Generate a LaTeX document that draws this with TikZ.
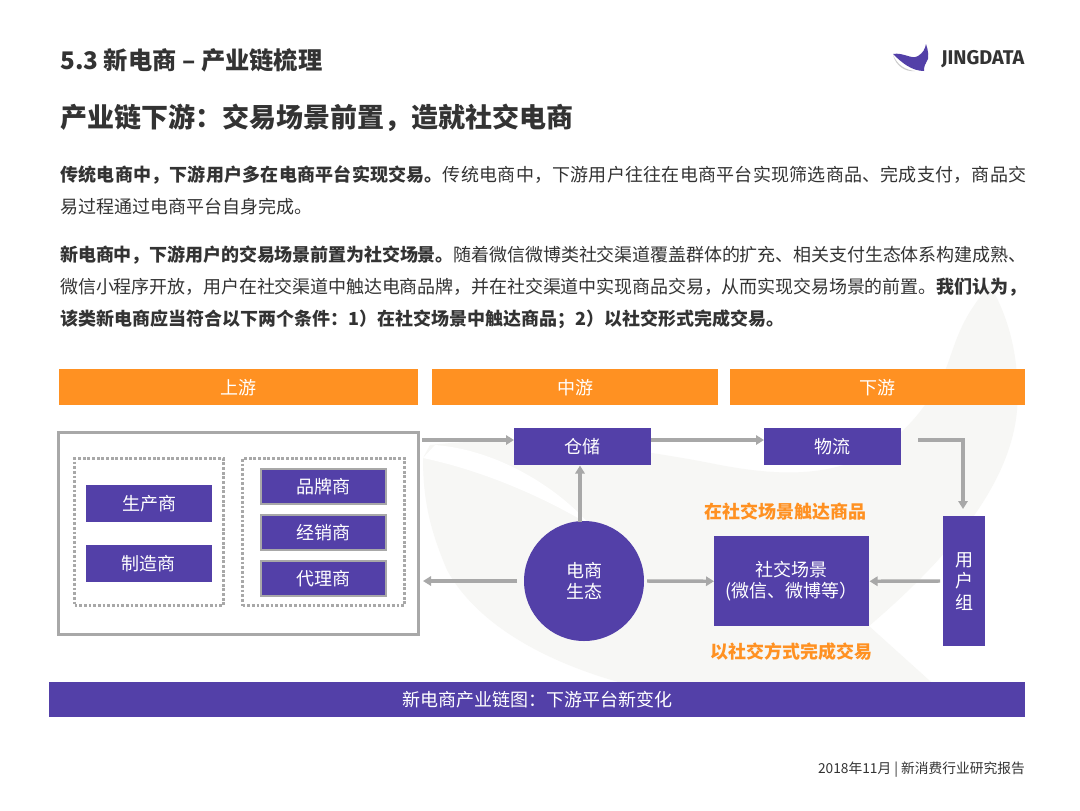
\documentclass[tikz,border=0pt]{standalone}
\usepackage{fontspec}
\setmainfont{Noto Sans CJK SC}
\newfontfamily\logofont{Fira Sans}
\XeTeXlinebreaklocale "zh"
\XeTeXlinebreakskip=0pt plus 0.6pt minus 0.3pt
\usetikzlibrary{positioning, arrows.meta}
\definecolor{jingpurple}{HTML}{5340A8}
\definecolor{jingorange}{HTML}{FF9122}
\definecolor{jinggray}{HTML}{A8A8A8}
\definecolor{jingtext}{HTML}{333333}
\definecolor{jingwash}{HTML}{F7F7F5}

\begin{document}
\begin{tikzpicture}[
        x=0.75pt, y=-0.75pt,
        >={Triangle[length=6pt,width=7pt]},
        % box styles
        head/.style={fill=jingorange, text=white, font=\fontsize{13.5}{16}\selectfont,
                     anchor=north west, inner sep=0pt, align=center},
        pbox/.style={fill=jingpurple, text=white, font=\fontsize{13.5}{16}\selectfont,
                     anchor=north west, inner sep=0pt, align=center},
        edged/.style={pbox, draw=jinggray, line width=1.5pt},
        dots/.style={draw=jinggray, line width=2.25pt, dash pattern=on 2.1pt off 1.4pt,
                     anchor=north west, inner sep=0pt},
        arr/.style={->, line width=2.6pt, draw=jinggray},
        hint/.style={text=jingorange, font=\fontsize{13.5}{15}\bfseries\selectfont},
        body/.style={text=jingtext, anchor=north west, inner sep=0pt, text width=724.5pt,
                     font=\fontsize{13.5}{24}\selectfont, align=justify},
    ]
        \useasboundingbox (0,0) rectangle (1080,810);
        \fill[white] (0,0) rectangle (1080,810);

        %% -- background wash --
        \fill[jingwash] (430,445) .. controls (520,435) and (620,445) .. (720,465)
            .. controls (800,480) and (880,480) .. (935,390)
            .. controls (955,360) and (950,330) .. (990,285)
            .. controls (1010,320) and (1020,360) .. (1017,410)
            .. controls (1012,470) and (970,540) .. (869,626)
            -- (940,690) -- (650,690)
            .. controls (560,670) and (480,630) .. (447,570)
            .. controls (430,530) and (423,500) .. (423,458) -- cycle;
        \fill[white] (435,445) .. controls (500,450) and (560,490) .. (590,525)
            .. controls (540,495) and (480,470) .. (423,458) -- cycle;

        %% -- header and texts --
        \node[anchor=west, inner sep=0pt, text=jingtext, font=\fontsize{18.2}{20}\bfseries\selectfont]
            (title) at (60,60) {5.3 新电商 – 产业链梳理};
        \node[anchor=west, inner sep=0pt, text=jingtext, font=\fontsize{20.25}{24}\bfseries\selectfont]
            (subtitle) at (60,118) {产业链下游：交易场景前置，造就社交电商};
        \node[body] (parone) at (60,165) {\textbf{传统电商中，下游用户多在电商平台实现交易。}传统电商中，下游用户往往在电商平台实现筛选商品、完成支付，商品交\linebreak 易过程通过电商平台自身完成。};
        \node[body] (partwo) at (60,245.5) {\textbf{新电商中，下游用户的交易场景前置为社交场景。}随着微信微博类社交渠道覆盖群体的扩充、相关支付生态体系构建成熟、\linebreak 微信小程序开放，用户在社交渠道中触达电商品牌，并在社交渠道中实现商品交易，从而实现交易场景的前置。\textbf{我们认为，\linebreak 该类新电商应当符合以下两个条件：1）在社交场景中触达商品；2）以社交形式完成交易。}};

        %% -- logo --
        \fill[jinggray!60] (893,55) .. controls (898,66) and (906,70) .. (915,71) .. controls (905,72) and (896,66) .. (893,55);
        \fill[jingpurple] (893,54) .. controls (903,52) and (912,60) .. (918,56)
            .. controls (923,53) and (925,49) .. (926,44) .. controls (928,50) and (930,58) .. (926,63)
            .. controls (924,66) and (924,69) .. (924,71) .. controls (912,71) and (902,63) .. (893,54);
        \node[anchor=west, inner sep=0pt, text=jingtext, font=\logofont\fontsize{14.9}{16}\bfseries\selectfont]
            (logo) at (941,59) {JINGDATA};

        %% -- column headers --
        \node[head, minimum width=269.25pt, minimum height=27pt] (up)   at (59,369)  {上游};
        \node[head, minimum width=214.5pt,  minimum height=27pt] (mid)  at (432,369) {中游};
        \node[head, minimum width=221.25pt, minimum height=27pt] (down) at (730,369) {下游};

        %% -- upstream group --
        \node[draw=jinggray, fill=white, line width=2.25pt, anchor=north west, inner sep=0pt,
              minimum width=270pt, minimum height=151.5pt] (group) at (57,431) {};
        \node[dots, minimum width=111.75pt, minimum height=110.25pt] (dotsleft)  at (73,457)  {};
        \node[dots, minimum width=121.5pt,  minimum height=110.25pt] (dotsright) at (241,457) {};
        \node[pbox, minimum width=94.5pt, minimum height=27.5pt] (maker)   at (86,485)  {生产商};
        \node[pbox, minimum width=94pt,   minimum height=27.5pt] (factory) at (86,545)  {制造商};
        \node[edged, minimum width=93.75pt, minimum height=26.25pt] (brand)  at (260,468) {品牌商};
        \node[edged, minimum width=93.75pt, minimum height=26.25pt] (dealer) at (260,514) {经销商};
        \node[edged, minimum width=93.75pt, minimum height=26.25pt] (agent)  at (260,560) {代理商};

        %% -- mid and downstream --
        \node[pbox, minimum width=102.75pt, minimum height=27.75pt] (store) at (514,428) {仓储};
        \node[pbox, minimum width=102.75pt, minimum height=27.75pt] (ship)  at (764,428) {物流};
        \node[pbox, minimum width=116.25pt, minimum height=67.5pt]  (scene) at (714,536) {社交场景\\(微信、微博等）};
        \node[pbox, minimum width=31.5pt, minimum height=97.5pt]    (users) at (943,516) {用\\户\\组};
        \node[circle, fill=jingpurple, text=white, inner sep=0pt, minimum size=90pt, align=center,
              font=\fontsize{13.5}{16}\selectfont] (eco) at (584,581) {电商\\生态};
        \node[hint] (reach) at (785,512) {在社交场景触达商品};
        \node[hint] (trade) at (791,652) {以社交方式完成交易};

        %% -- footer --
        \node[pbox, minimum width=732pt, minimum height=26.25pt] (caption) at (49,682) {新电商产业链图：下游平台新变化};
        \node[anchor=east, inner sep=0pt, text=jingtext, font=\fontsize{10.3}{12}\selectfont]
            (date) at (1025,770) {2018年11月 | 新消费行业研究报告};

        %% -- connectors --
        \coordinate (groupout) at (422,440);
        \coordinate (groupin)  at (423,581);
        \coordinate (storein)  at (514,440);
        \coordinate (storeout) at (651,440);
        \coordinate (shipin)   at (764,440);
        \coordinate (shipout)  at (918,440);
        \coordinate (usersin)  at (963,509);
        \coordinate (usersout) at (940,581);
        \coordinate (ecotop)   at (580,522);
        \coordinate (ecoleft)  at (517,581);
        \coordinate (ecoright) at (647,581);
        \draw[arr] (groupout) -- (storein);
        \draw[arr] (storeout) -- (shipin);
        \draw[arr] (shipout) -| (usersin);
        \draw[arr] (ecotop) -- (ecotop |- store.south);
        \draw[arr] (ecoleft) -- (groupin);
        \draw[arr] (ecoright) -- (scene.west);
        \draw[arr] (usersout) -- (scene.east);
    \end{tikzpicture}
\end{document}
